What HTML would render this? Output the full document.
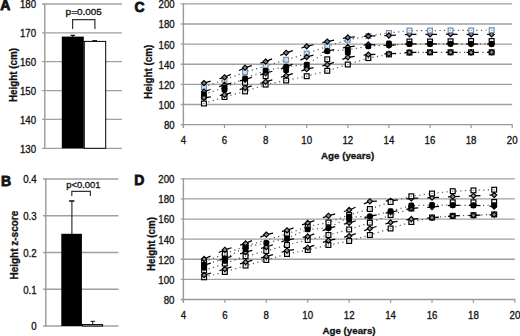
<!DOCTYPE html>
<html><head><meta charset="utf-8"><style>
html,body{margin:0;padding:0;background:#fff;}
body{width:520px;height:336px;overflow:hidden;}
svg{display:block;}
text{font-family:"Liberation Sans", sans-serif;fill:#111;}
</style></head><body>
<svg width="520" height="336" viewBox="0 0 520 336">
<rect width="520" height="336" fill="#fff"/>
<line x1="42" y1="148.30" x2="122" y2="148.30" stroke="#a0a0a0" stroke-width="1.3"/>
<text x="36.1" y="152.70" font-size="10.2" text-anchor="end" textLength="16.16" lengthAdjust="spacingAndGlyphs" stroke="#111" stroke-width="0.3">130</text>
<line x1="42" y1="119.44" x2="122" y2="119.44" stroke="#a0a0a0" stroke-width="1.3"/>
<text x="36.1" y="123.84" font-size="10.2" text-anchor="end" textLength="16.16" lengthAdjust="spacingAndGlyphs" stroke="#111" stroke-width="0.3">140</text>
<line x1="42" y1="90.58" x2="122" y2="90.58" stroke="#a0a0a0" stroke-width="1.3"/>
<text x="36.1" y="94.98" font-size="10.2" text-anchor="end" textLength="16.16" lengthAdjust="spacingAndGlyphs" stroke="#111" stroke-width="0.3">150</text>
<line x1="42" y1="61.72" x2="122" y2="61.72" stroke="#a0a0a0" stroke-width="1.3"/>
<text x="36.1" y="66.12" font-size="10.2" text-anchor="end" textLength="16.16" lengthAdjust="spacingAndGlyphs" stroke="#111" stroke-width="0.3">160</text>
<line x1="42" y1="32.86" x2="122" y2="32.86" stroke="#a0a0a0" stroke-width="1.3"/>
<text x="36.1" y="37.26" font-size="10.2" text-anchor="end" textLength="16.16" lengthAdjust="spacingAndGlyphs" stroke="#111" stroke-width="0.3">170</text>
<line x1="42" y1="4.00" x2="122" y2="4.00" stroke="#a0a0a0" stroke-width="1.3"/>
<text x="36.1" y="8.40" font-size="10.2" text-anchor="end" textLength="16.16" lengthAdjust="spacingAndGlyphs" stroke="#111" stroke-width="0.3">180</text>
<line x1="44.8" y1="3.40" x2="44.8" y2="148.90" stroke="#999999" stroke-width="1.4"/>
<rect x="61.8" y="36.6" width="22" height="111.70" fill="#000"/>
<rect x="84.3" y="41.4" width="21.4" height="106.90" fill="#fff" stroke="#000" stroke-width="1"/>
<path d="M70.6,35.4 H74.9 M72.75,35.4 V37" stroke="#111" stroke-width="1.2" fill="none"/>
<path d="M92.3,40.6 H97 M94.65,40.6 V41.5" stroke="#111" stroke-width="1" fill="none"/>
<path d="M72.6,28.9 V19.7 H94.9 V28.9" stroke="#333" stroke-width="1.2" fill="none"/>
<text x="65.6" y="14.9" font-size="9.4" text-anchor="start" textLength="36.3" lengthAdjust="spacingAndGlyphs" stroke="#111" stroke-width="0.3">p=0.005</text>
<text x="0.3" y="9.8" font-size="14" font-weight="bold" text-anchor="start" stroke="#111" stroke-width="0.8">A</text>
<text transform="translate(16.8,102.1) rotate(-90)" x="0" y="0" font-size="10.2" font-weight="bold" textLength="54.2" lengthAdjust="spacingAndGlyphs" stroke="#111" stroke-width="0.3">Height (cm)</text>
<line x1="43" y1="326.00" x2="118.5" y2="326.00" stroke="#a0a0a0" stroke-width="1.3"/>
<text x="36.6" y="330.40" font-size="10.2" text-anchor="end" textLength="5.39" lengthAdjust="spacingAndGlyphs" stroke="#111" stroke-width="0.3">0</text>
<line x1="43" y1="289.25" x2="118.5" y2="289.25" stroke="#a0a0a0" stroke-width="1.3"/>
<text x="36.6" y="293.65" font-size="10.2" text-anchor="end" textLength="13.47" lengthAdjust="spacingAndGlyphs" stroke="#111" stroke-width="0.3">0.1</text>
<line x1="43" y1="252.50" x2="118.5" y2="252.50" stroke="#a0a0a0" stroke-width="1.3"/>
<text x="36.6" y="256.90" font-size="10.2" text-anchor="end" textLength="13.47" lengthAdjust="spacingAndGlyphs" stroke="#111" stroke-width="0.3">0.2</text>
<line x1="43" y1="215.75" x2="118.5" y2="215.75" stroke="#a0a0a0" stroke-width="1.3"/>
<text x="36.6" y="220.15" font-size="10.2" text-anchor="end" textLength="13.47" lengthAdjust="spacingAndGlyphs" stroke="#111" stroke-width="0.3">0.3</text>
<line x1="43" y1="179.00" x2="118.5" y2="179.00" stroke="#a0a0a0" stroke-width="1.3"/>
<text x="36.6" y="183.40" font-size="10.2" text-anchor="end" textLength="13.47" lengthAdjust="spacingAndGlyphs" stroke="#111" stroke-width="0.3">0.4</text>
<line x1="45.8" y1="178.40" x2="45.8" y2="326.60" stroke="#999999" stroke-width="1.4"/>
<rect x="61.3" y="233.8" width="20.6" height="92.20" fill="#000"/>
<rect x="82.4" y="324.6" width="20.2" height="1.4" fill="#fff" stroke="#000" stroke-width="1"/>
<path d="M69.1,201 H74.4" stroke="#111" stroke-width="1.6" fill="none"/><path d="M71.9,201 V234" stroke="#222" stroke-width="1.1" fill="none"/>
<path d="M90.6,321.3 H95.1 M92.7,321.3 V324.6" stroke="#111" stroke-width="1" fill="none"/>
<path d="M71.8,195.9 V191.3 H90.4 V195.9" stroke="#333" stroke-width="1.2" fill="none"/>
<text x="66.2" y="188.2" font-size="9.8" text-anchor="start" textLength="34.4" lengthAdjust="spacingAndGlyphs" stroke="#111" stroke-width="0.3">p&lt;0.001</text>
<text x="0.9" y="185.5" font-size="14" font-weight="bold" text-anchor="start" stroke="#111" stroke-width="0.8">B</text>
<text transform="translate(17.9,279.5) rotate(-90)" x="0" y="0" font-size="10.2" font-weight="bold" textLength="68.7" lengthAdjust="spacingAndGlyphs" stroke="#111" stroke-width="0.3">Height z-score</text>
<line x1="180.7" y1="104.48" x2="512.2" y2="104.48" stroke="#a0a0a0" stroke-width="1.3"/>
<line x1="180.7" y1="84.37" x2="512.2" y2="84.37" stroke="#a0a0a0" stroke-width="1.3"/>
<line x1="180.7" y1="64.25" x2="512.2" y2="64.25" stroke="#a0a0a0" stroke-width="1.3"/>
<line x1="180.7" y1="44.13" x2="512.2" y2="44.13" stroke="#a0a0a0" stroke-width="1.3"/>
<line x1="180.7" y1="24.02" x2="512.2" y2="24.02" stroke="#a0a0a0" stroke-width="1.3"/>
<line x1="180.7" y1="3.90" x2="512.2" y2="3.90" stroke="#a0a0a0" stroke-width="1.3"/>
<text x="174.7" y="129.00" font-size="10.2" text-anchor="end" textLength="10.78" lengthAdjust="spacingAndGlyphs" stroke="#111" stroke-width="0.3">80</text>
<text x="174.7" y="108.88" font-size="10.2" text-anchor="end" textLength="16.16" lengthAdjust="spacingAndGlyphs" stroke="#111" stroke-width="0.3">100</text>
<text x="174.7" y="88.77" font-size="10.2" text-anchor="end" textLength="16.16" lengthAdjust="spacingAndGlyphs" stroke="#111" stroke-width="0.3">120</text>
<text x="174.7" y="68.65" font-size="10.2" text-anchor="end" textLength="16.16" lengthAdjust="spacingAndGlyphs" stroke="#111" stroke-width="0.3">140</text>
<text x="174.7" y="48.53" font-size="10.2" text-anchor="end" textLength="16.16" lengthAdjust="spacingAndGlyphs" stroke="#111" stroke-width="0.3">160</text>
<text x="174.7" y="28.42" font-size="10.2" text-anchor="end" textLength="16.16" lengthAdjust="spacingAndGlyphs" stroke="#111" stroke-width="0.3">180</text>
<text x="174.7" y="8.30" font-size="10.2" text-anchor="end" textLength="16.16" lengthAdjust="spacingAndGlyphs" stroke="#111" stroke-width="0.3">200</text>
<line x1="180.7" y1="124.60" x2="512.7" y2="124.60" stroke="#999999" stroke-width="1.4"/>
<line x1="183.4" y1="3.30" x2="183.4" y2="128.00" stroke="#999999" stroke-width="1.4"/>
<line x1="183.40" y1="124.60" x2="183.40" y2="128.00" stroke="#999999" stroke-width="1.2"/>
<text x="183.40" y="144.1" font-size="10.2" text-anchor="middle" textLength="5.39" lengthAdjust="spacingAndGlyphs" stroke="#111" stroke-width="0.3">4</text>
<line x1="224.50" y1="124.60" x2="224.50" y2="128.00" stroke="#999999" stroke-width="1.2"/>
<text x="224.50" y="144.1" font-size="10.2" text-anchor="middle" textLength="5.39" lengthAdjust="spacingAndGlyphs" stroke="#111" stroke-width="0.3">6</text>
<line x1="265.60" y1="124.60" x2="265.60" y2="128.00" stroke="#999999" stroke-width="1.2"/>
<text x="265.60" y="144.1" font-size="10.2" text-anchor="middle" textLength="5.39" lengthAdjust="spacingAndGlyphs" stroke="#111" stroke-width="0.3">8</text>
<line x1="306.70" y1="124.60" x2="306.70" y2="128.00" stroke="#999999" stroke-width="1.2"/>
<text x="306.70" y="144.1" font-size="10.2" text-anchor="middle" textLength="10.78" lengthAdjust="spacingAndGlyphs" stroke="#111" stroke-width="0.3">10</text>
<line x1="347.80" y1="124.60" x2="347.80" y2="128.00" stroke="#999999" stroke-width="1.2"/>
<text x="347.80" y="144.1" font-size="10.2" text-anchor="middle" textLength="10.78" lengthAdjust="spacingAndGlyphs" stroke="#111" stroke-width="0.3">12</text>
<line x1="388.90" y1="124.60" x2="388.90" y2="128.00" stroke="#999999" stroke-width="1.2"/>
<text x="388.90" y="144.1" font-size="10.2" text-anchor="middle" textLength="10.78" lengthAdjust="spacingAndGlyphs" stroke="#111" stroke-width="0.3">14</text>
<line x1="430.00" y1="124.60" x2="430.00" y2="128.00" stroke="#999999" stroke-width="1.2"/>
<text x="430.00" y="144.1" font-size="10.2" text-anchor="middle" textLength="10.78" lengthAdjust="spacingAndGlyphs" stroke="#111" stroke-width="0.3">16</text>
<line x1="471.10" y1="124.60" x2="471.10" y2="128.00" stroke="#999999" stroke-width="1.2"/>
<text x="471.10" y="144.1" font-size="10.2" text-anchor="middle" textLength="10.78" lengthAdjust="spacingAndGlyphs" stroke="#111" stroke-width="0.3">18</text>
<line x1="512.20" y1="124.60" x2="512.20" y2="128.00" stroke="#999999" stroke-width="1.2"/>
<text x="512.20" y="144.1" font-size="10.2" text-anchor="middle" textLength="10.78" lengthAdjust="spacingAndGlyphs" stroke="#111" stroke-width="0.3">20</text>
<text x="321" y="159.0" font-size="9.6" font-weight="bold" text-anchor="start" textLength="53.2" lengthAdjust="spacingAndGlyphs" stroke="#111" stroke-width="0.3">Age (years)</text>
<text x="134.6" y="11.7" font-size="14" font-weight="bold" text-anchor="start" stroke="#111" stroke-width="0.8">C</text>
<text transform="translate(152.1,98.9) rotate(-90)" x="0" y="0" font-size="10.2" font-weight="bold" textLength="54.1" lengthAdjust="spacingAndGlyphs" stroke="#111" stroke-width="0.3">Height (cm)</text>
<path d="M203.95,87.00 L224.50,79.80 L245.05,72.20 L265.60,66.10 L286.15,59.80 L306.70,53.60 L327.25,46.30 L347.80,39.80 L368.35,36.00 L388.90,33.00 L409.45,30.60 L430.00,30.60 L450.55,30.40 L471.10,30.40 L491.65,30.20" stroke="#555" stroke-width="1.2" stroke-dasharray="1.2 3.4" fill="none"/>
<path d="M203.95,94.30 L224.50,87.60 L245.05,78.40 L265.60,70.60 L286.15,66.60 L306.70,64.60 L327.25,51.20 L347.80,49.80 L368.35,46.30 L388.90,45.00 L409.45,44.00 L430.00,44.00 L450.55,43.80 L471.10,43.80 L491.65,44.00" stroke="#555" stroke-width="1.2" stroke-dasharray="1.2 3.4" fill="none"/>
<path d="M203.95,103.50 L224.50,97.00 L245.05,91.40 L265.60,84.60 L286.15,80.50 L306.70,76.20 L327.25,70.80 L347.80,64.50 L368.35,58.10 L388.90,54.40 L409.45,52.60 L430.00,52.30 L450.55,52.30 L471.10,52.30 L491.65,52.30" stroke="#555" stroke-width="1.2" stroke-dasharray="1.2 3.4" fill="none"/>
<line x1="388.90" y1="35.50" x2="409.45" y2="34.30" stroke="#000" stroke-width="1.25" stroke-dasharray="7 9"/>
<line x1="409.45" y1="34.30" x2="430.00" y2="34.40" stroke="#000" stroke-width="1.25" stroke-dasharray="7 9"/>
<line x1="430.00" y1="34.40" x2="450.55" y2="34.20" stroke="#000" stroke-width="1.25" stroke-dasharray="7 9"/>
<line x1="450.55" y1="34.20" x2="471.10" y2="34.40" stroke="#000" stroke-width="1.25" stroke-dasharray="7 9"/>
<line x1="471.10" y1="34.40" x2="491.65" y2="34.40" stroke="#000" stroke-width="1.25" stroke-dasharray="7 9"/>
<path d="M409.45,31.70 L412.05,34.30 L409.45,36.90 L406.85,34.30 Z" fill="#6f7d96" stroke="#000" stroke-width="1.1"/>
<path d="M430.00,31.80 L432.60,34.40 L430.00,37.00 L427.40,34.40 Z" fill="#6f7d96" stroke="#000" stroke-width="1.1"/>
<path d="M450.55,31.60 L453.15,34.20 L450.55,36.80 L447.95,34.20 Z" fill="#6f7d96" stroke="#000" stroke-width="1.1"/>
<path d="M471.10,31.80 L473.70,34.40 L471.10,37.00 L468.50,34.40 Z" fill="#6f7d96" stroke="#000" stroke-width="1.1"/>
<path d="M491.65,31.80 L494.25,34.40 L491.65,37.00 L489.05,34.40 Z" fill="#6f7d96" stroke="#000" stroke-width="1.1"/>
<rect x="201.55" y="84.60" width="4.8" height="4.8" fill="#d6e2ef" stroke="#7390b0" stroke-width="1.2"/>
<rect x="222.10" y="77.40" width="4.8" height="4.8" fill="#d6e2ef" stroke="#7390b0" stroke-width="1.2"/>
<rect x="242.65" y="69.80" width="4.8" height="4.8" fill="#d6e2ef" stroke="#7390b0" stroke-width="1.2"/>
<rect x="263.20" y="63.70" width="4.8" height="4.8" fill="#d6e2ef" stroke="#7390b0" stroke-width="1.2"/>
<rect x="283.75" y="57.40" width="4.8" height="4.8" fill="#d6e2ef" stroke="#7390b0" stroke-width="1.2"/>
<rect x="304.30" y="51.20" width="4.8" height="4.8" fill="#d6e2ef" stroke="#7390b0" stroke-width="1.2"/>
<rect x="324.85" y="43.90" width="4.8" height="4.8" fill="#d6e2ef" stroke="#7390b0" stroke-width="1.2"/>
<rect x="345.40" y="37.40" width="4.8" height="4.8" fill="#d6e2ef" stroke="#7390b0" stroke-width="1.2"/>
<rect x="365.95" y="33.60" width="4.8" height="4.8" fill="#d6e2ef" stroke="#7390b0" stroke-width="1.2"/>
<rect x="386.50" y="30.60" width="4.8" height="4.8" fill="#f4f7fb" stroke="#7390b0" stroke-width="1.2"/>
<rect x="388.30" y="32.40" width="1.2" height="1.2" fill="#8aa"/>
<rect x="407.05" y="28.20" width="4.8" height="4.8" fill="#f4f7fb" stroke="#7390b0" stroke-width="1.2"/>
<rect x="408.85" y="30.00" width="1.2" height="1.2" fill="#8aa"/>
<rect x="427.60" y="28.20" width="4.8" height="4.8" fill="#f4f7fb" stroke="#7390b0" stroke-width="1.2"/>
<rect x="429.40" y="30.00" width="1.2" height="1.2" fill="#8aa"/>
<rect x="448.15" y="28.00" width="4.8" height="4.8" fill="#f4f7fb" stroke="#7390b0" stroke-width="1.2"/>
<rect x="449.95" y="29.80" width="1.2" height="1.2" fill="#8aa"/>
<rect x="468.70" y="28.00" width="4.8" height="4.8" fill="#f4f7fb" stroke="#7390b0" stroke-width="1.2"/>
<rect x="470.50" y="29.80" width="1.2" height="1.2" fill="#8aa"/>
<rect x="489.25" y="27.80" width="4.8" height="4.8" fill="#f4f7fb" stroke="#7390b0" stroke-width="1.2"/>
<rect x="491.05" y="29.60" width="1.2" height="1.2" fill="#8aa"/>
<rect x="407.05" y="39.10" width="4.8" height="4.8" fill="#fff" stroke="#000" stroke-width="1.2"/>
<rect x="427.60" y="39.10" width="4.8" height="4.8" fill="#fff" stroke="#000" stroke-width="1.2"/>
<rect x="448.15" y="38.90" width="4.8" height="4.8" fill="#fff" stroke="#000" stroke-width="1.2"/>
<rect x="468.70" y="38.60" width="4.8" height="4.8" fill="#fff" stroke="#000" stroke-width="1.2"/>
<rect x="489.25" y="38.60" width="4.8" height="4.8" fill="#fff" stroke="#000" stroke-width="1.2"/>
<rect x="242.65" y="80.40" width="4.8" height="4.8" fill="#fff" stroke="#000" stroke-width="1.2"/>
<rect x="244.45" y="82.20" width="1.2" height="1.2" fill="#777"/>
<rect x="263.20" y="73.80" width="4.8" height="4.8" fill="#fff" stroke="#000" stroke-width="1.2"/>
<rect x="265.00" y="75.60" width="1.2" height="1.2" fill="#777"/>
<rect x="324.85" y="56.90" width="4.8" height="4.8" fill="#fff" stroke="#000" stroke-width="1.2"/>
<rect x="326.65" y="58.70" width="1.2" height="1.2" fill="#777"/>
<rect x="201.55" y="101.10" width="4.8" height="4.8" fill="#fff" stroke="#000" stroke-width="1.2"/>
<rect x="203.35" y="102.90" width="1.2" height="1.2" fill="#777"/>
<rect x="222.10" y="94.60" width="4.8" height="4.8" fill="#fff" stroke="#000" stroke-width="1.2"/>
<rect x="223.90" y="96.40" width="1.2" height="1.2" fill="#777"/>
<rect x="242.65" y="89.00" width="4.8" height="4.8" fill="#fff" stroke="#000" stroke-width="1.2"/>
<rect x="244.45" y="90.80" width="1.2" height="1.2" fill="#777"/>
<rect x="263.20" y="82.20" width="4.8" height="4.8" fill="#fff" stroke="#000" stroke-width="1.2"/>
<rect x="265.00" y="84.00" width="1.2" height="1.2" fill="#777"/>
<rect x="283.75" y="78.10" width="4.8" height="4.8" fill="#fff" stroke="#000" stroke-width="1.2"/>
<rect x="285.55" y="79.90" width="1.2" height="1.2" fill="#777"/>
<rect x="304.30" y="73.80" width="4.8" height="4.8" fill="#fff" stroke="#000" stroke-width="1.2"/>
<rect x="306.10" y="75.60" width="1.2" height="1.2" fill="#777"/>
<rect x="324.85" y="68.40" width="4.8" height="4.8" fill="#fff" stroke="#000" stroke-width="1.2"/>
<rect x="326.65" y="70.20" width="1.2" height="1.2" fill="#777"/>
<rect x="345.40" y="62.10" width="4.8" height="4.8" fill="#fff" stroke="#000" stroke-width="1.2"/>
<rect x="347.20" y="63.90" width="1.2" height="1.2" fill="#777"/>
<rect x="365.95" y="55.70" width="4.8" height="4.8" fill="#fff" stroke="#000" stroke-width="1.2"/>
<rect x="367.75" y="57.50" width="1.2" height="1.2" fill="#777"/>
<rect x="386.50" y="52.00" width="4.8" height="4.8" fill="#fff" stroke="#000" stroke-width="1.2"/>
<rect x="388.30" y="53.80" width="1.2" height="1.2" fill="#777"/>
<rect x="407.05" y="50.20" width="4.8" height="4.8" fill="#fff" stroke="#000" stroke-width="1.2"/>
<rect x="408.85" y="52.00" width="1.2" height="1.2" fill="#777"/>
<rect x="427.60" y="49.90" width="4.8" height="4.8" fill="#fff" stroke="#000" stroke-width="1.2"/>
<rect x="429.40" y="51.70" width="1.2" height="1.2" fill="#777"/>
<rect x="448.15" y="49.90" width="4.8" height="4.8" fill="#fff" stroke="#000" stroke-width="1.2"/>
<rect x="449.95" y="51.70" width="1.2" height="1.2" fill="#777"/>
<rect x="468.70" y="49.90" width="4.8" height="4.8" fill="#fff" stroke="#000" stroke-width="1.2"/>
<rect x="470.50" y="51.70" width="1.2" height="1.2" fill="#777"/>
<rect x="489.25" y="49.90" width="4.8" height="4.8" fill="#fff" stroke="#000" stroke-width="1.2"/>
<rect x="491.05" y="51.70" width="1.2" height="1.2" fill="#777"/>
<line x1="203.95" y1="91.70" x2="224.50" y2="84.90" stroke="#000" stroke-width="1.25" stroke-dasharray="7 9"/>
<line x1="224.50" y1="84.90" x2="245.05" y2="79.50" stroke="#000" stroke-width="1.25" stroke-dasharray="7 9"/>
<line x1="245.05" y1="79.50" x2="265.60" y2="73.20" stroke="#000" stroke-width="1.25" stroke-dasharray="7 9"/>
<line x1="265.60" y1="73.20" x2="286.15" y2="67.30" stroke="#000" stroke-width="1.25" stroke-dasharray="7 9"/>
<line x1="286.15" y1="67.30" x2="306.70" y2="57.00" stroke="#000" stroke-width="1.25" stroke-dasharray="7 9"/>
<line x1="306.70" y1="57.00" x2="327.25" y2="51.00" stroke="#000" stroke-width="1.25" stroke-dasharray="7 9"/>
<line x1="327.25" y1="51.00" x2="347.80" y2="47.00" stroke="#000" stroke-width="1.25" stroke-dasharray="7 9"/>
<line x1="347.80" y1="47.00" x2="368.35" y2="44.50" stroke="#000" stroke-width="1.25" stroke-dasharray="7 9"/>
<line x1="368.35" y1="44.50" x2="388.90" y2="45.50" stroke="#000" stroke-width="1.25" stroke-dasharray="7 9"/>
<line x1="388.90" y1="45.50" x2="409.45" y2="43.80" stroke="#000" stroke-width="1.25" stroke-dasharray="7 9"/>
<line x1="409.45" y1="43.80" x2="430.00" y2="43.80" stroke="#000" stroke-width="1.25" stroke-dasharray="7 9"/>
<line x1="430.00" y1="43.80" x2="450.55" y2="43.80" stroke="#000" stroke-width="1.25" stroke-dasharray="7 9"/>
<line x1="450.55" y1="43.80" x2="471.10" y2="44.00" stroke="#000" stroke-width="1.25" stroke-dasharray="7 9"/>
<line x1="471.10" y1="44.00" x2="491.65" y2="44.00" stroke="#000" stroke-width="1.25" stroke-dasharray="7 9"/>
<path d="M203.95,89.10 L206.55,91.70 L203.95,94.30 L201.35,91.70 Z" fill="#8c8c8c" stroke="#000" stroke-width="1.1"/>
<path d="M224.50,82.30 L227.10,84.90 L224.50,87.50 L221.90,84.90 Z" fill="#8c8c8c" stroke="#000" stroke-width="1.1"/>
<path d="M245.05,76.90 L247.65,79.50 L245.05,82.10 L242.45,79.50 Z" fill="#8c8c8c" stroke="#000" stroke-width="1.1"/>
<path d="M265.60,70.60 L268.20,73.20 L265.60,75.80 L263.00,73.20 Z" fill="#8c8c8c" stroke="#000" stroke-width="1.1"/>
<path d="M286.15,64.70 L288.75,67.30 L286.15,69.90 L283.55,67.30 Z" fill="#8c8c8c" stroke="#000" stroke-width="1.1"/>
<path d="M306.70,54.40 L309.30,57.00 L306.70,59.60 L304.10,57.00 Z" fill="#8c8c8c" stroke="#000" stroke-width="1.1"/>
<path d="M327.25,48.40 L329.85,51.00 L327.25,53.60 L324.65,51.00 Z" fill="#8c8c8c" stroke="#000" stroke-width="1.1"/>
<path d="M347.80,44.40 L350.40,47.00 L347.80,49.60 L345.20,47.00 Z" fill="#8c8c8c" stroke="#000" stroke-width="1.1"/>
<path d="M368.35,41.90 L370.95,44.50 L368.35,47.10 L365.75,44.50 Z" fill="#8c8c8c" stroke="#000" stroke-width="1.1"/>
<path d="M388.90,42.90 L391.50,45.50 L388.90,48.10 L386.30,45.50 Z" fill="#8c8c8c" stroke="#000" stroke-width="1.1"/>
<path d="M409.45,41.20 L412.05,43.80 L409.45,46.40 L406.85,43.80 Z" fill="#8c8c8c" stroke="#000" stroke-width="1.1"/>
<path d="M430.00,41.20 L432.60,43.80 L430.00,46.40 L427.40,43.80 Z" fill="#8c8c8c" stroke="#000" stroke-width="1.1"/>
<path d="M450.55,41.20 L453.15,43.80 L450.55,46.40 L447.95,43.80 Z" fill="#8c8c8c" stroke="#000" stroke-width="1.1"/>
<path d="M471.10,41.40 L473.70,44.00 L471.10,46.60 L468.50,44.00 Z" fill="#8c8c8c" stroke="#000" stroke-width="1.1"/>
<path d="M491.65,41.40 L494.25,44.00 L491.65,46.60 L489.05,44.00 Z" fill="#8c8c8c" stroke="#000" stroke-width="1.1"/>
<rect x="201.05" y="94.30" width="5.80" height="5.80" rx="1.6" fill="#000"/>
<rect x="221.60" y="86.90" width="5.80" height="5.80" rx="1.6" fill="#000"/>
<rect x="283.25" y="67.30" width="5.80" height="5.80" rx="1.6" fill="#000"/>
<rect x="303.80" y="64.70" width="5.80" height="5.80" rx="1.6" fill="#000"/>
<rect x="344.90" y="49.70" width="5.80" height="5.80" rx="1.6" fill="#000"/>
<rect x="386.00" y="40.50" width="5.80" height="5.80" rx="1.6" fill="#000"/>
<rect x="201.05" y="91.40" width="5.80" height="5.80" rx="1.6" fill="#000"/>
<rect x="221.60" y="84.70" width="5.80" height="5.80" rx="1.6" fill="#000"/>
<rect x="242.15" y="75.50" width="5.80" height="5.80" rx="1.6" fill="#000"/>
<rect x="262.70" y="67.70" width="5.80" height="5.80" rx="1.6" fill="#000"/>
<rect x="283.25" y="63.70" width="5.80" height="5.80" rx="1.6" fill="#000"/>
<rect x="303.80" y="61.70" width="5.80" height="5.80" rx="1.6" fill="#000"/>
<rect x="324.35" y="48.30" width="5.80" height="5.80" rx="1.6" fill="#000"/>
<rect x="344.90" y="46.90" width="5.80" height="5.80" rx="1.6" fill="#000"/>
<rect x="365.45" y="43.40" width="5.80" height="5.80" rx="1.6" fill="#000"/>
<rect x="386.00" y="42.10" width="5.80" height="5.80" rx="1.6" fill="#000"/>
<rect x="406.55" y="41.10" width="5.80" height="5.80" rx="1.6" fill="#000"/>
<rect x="427.10" y="41.10" width="5.80" height="5.80" rx="1.6" fill="#000"/>
<rect x="447.65" y="40.90" width="5.80" height="5.80" rx="1.6" fill="#000"/>
<rect x="468.20" y="40.90" width="5.80" height="5.80" rx="1.6" fill="#000"/>
<rect x="488.75" y="41.10" width="5.80" height="5.80" rx="1.6" fill="#000"/>
<line x1="203.95" y1="83.10" x2="224.50" y2="77.30" stroke="#000" stroke-width="1.25" stroke-dasharray="7 9"/>
<line x1="224.50" y1="77.30" x2="245.05" y2="67.70" stroke="#000" stroke-width="1.25" stroke-dasharray="7 9"/>
<line x1="245.05" y1="67.70" x2="265.60" y2="61.60" stroke="#000" stroke-width="1.25" stroke-dasharray="7 9"/>
<line x1="265.60" y1="61.60" x2="286.15" y2="52.80" stroke="#000" stroke-width="1.25" stroke-dasharray="7 9"/>
<line x1="286.15" y1="52.80" x2="306.70" y2="46.30" stroke="#000" stroke-width="1.25" stroke-dasharray="7 9"/>
<line x1="306.70" y1="46.30" x2="327.25" y2="41.60" stroke="#000" stroke-width="1.25" stroke-dasharray="7 9"/>
<line x1="327.25" y1="41.60" x2="347.80" y2="37.50" stroke="#000" stroke-width="1.25" stroke-dasharray="7 9"/>
<line x1="347.80" y1="37.50" x2="368.35" y2="36.00" stroke="#000" stroke-width="1.25" stroke-dasharray="7 9"/>
<line x1="368.35" y1="36.00" x2="388.90" y2="35.50" stroke="#000" stroke-width="1.25" stroke-dasharray="7 9"/>
<path d="M203.95,80.50 L206.55,83.10 L203.95,85.70 L201.35,83.10 Z" fill="#6f7d96" stroke="#000" stroke-width="1.1"/>
<path d="M224.50,74.70 L227.10,77.30 L224.50,79.90 L221.90,77.30 Z" fill="#6f7d96" stroke="#000" stroke-width="1.1"/>
<path d="M245.05,65.10 L247.65,67.70 L245.05,70.30 L242.45,67.70 Z" fill="#6f7d96" stroke="#000" stroke-width="1.1"/>
<path d="M265.60,59.00 L268.20,61.60 L265.60,64.20 L263.00,61.60 Z" fill="#6f7d96" stroke="#000" stroke-width="1.1"/>
<path d="M286.15,50.20 L288.75,52.80 L286.15,55.40 L283.55,52.80 Z" fill="#6f7d96" stroke="#000" stroke-width="1.1"/>
<path d="M306.70,43.70 L309.30,46.30 L306.70,48.90 L304.10,46.30 Z" fill="#6f7d96" stroke="#000" stroke-width="1.1"/>
<path d="M327.25,39.00 L329.85,41.60 L327.25,44.20 L324.65,41.60 Z" fill="#6f7d96" stroke="#000" stroke-width="1.1"/>
<path d="M347.80,34.90 L350.40,37.50 L347.80,40.10 L345.20,37.50 Z" fill="#6f7d96" stroke="#000" stroke-width="1.1"/>
<path d="M368.35,33.40 L370.95,36.00 L368.35,38.60 L365.75,36.00 Z" fill="#6f7d96" stroke="#000" stroke-width="1.1"/>
<path d="M388.90,32.90 L391.50,35.50 L388.90,38.10 L386.30,35.50 Z" fill="#6f7d96" stroke="#000" stroke-width="1.1"/>
<line x1="203.95" y1="97.80" x2="224.50" y2="94.80" stroke="#000" stroke-width="1.25" stroke-dasharray="7 9"/>
<line x1="224.50" y1="94.80" x2="245.05" y2="87.80" stroke="#000" stroke-width="1.25" stroke-dasharray="7 9"/>
<line x1="245.05" y1="87.80" x2="265.60" y2="81.80" stroke="#000" stroke-width="1.25" stroke-dasharray="7 9"/>
<line x1="265.60" y1="81.80" x2="286.15" y2="75.70" stroke="#000" stroke-width="1.25" stroke-dasharray="7 9"/>
<line x1="286.15" y1="75.70" x2="306.70" y2="69.20" stroke="#000" stroke-width="1.25" stroke-dasharray="7 9"/>
<line x1="306.70" y1="69.20" x2="327.25" y2="64.80" stroke="#000" stroke-width="1.25" stroke-dasharray="7 9"/>
<line x1="327.25" y1="64.80" x2="347.80" y2="57.30" stroke="#000" stroke-width="1.25" stroke-dasharray="7 9"/>
<line x1="347.80" y1="57.30" x2="368.35" y2="54.60" stroke="#000" stroke-width="1.25" stroke-dasharray="7 9"/>
<line x1="368.35" y1="54.60" x2="388.90" y2="53.80" stroke="#000" stroke-width="1.25" stroke-dasharray="7 9"/>
<line x1="388.90" y1="53.80" x2="409.45" y2="52.40" stroke="#000" stroke-width="1.25" stroke-dasharray="7 9"/>
<line x1="409.45" y1="52.40" x2="430.00" y2="52.30" stroke="#000" stroke-width="1.25" stroke-dasharray="7 9"/>
<line x1="430.00" y1="52.30" x2="450.55" y2="52.30" stroke="#000" stroke-width="1.25" stroke-dasharray="7 9"/>
<line x1="450.55" y1="52.30" x2="471.10" y2="52.50" stroke="#000" stroke-width="1.25" stroke-dasharray="7 9"/>
<line x1="471.10" y1="52.50" x2="491.65" y2="52.30" stroke="#000" stroke-width="1.25" stroke-dasharray="7 9"/>
<path d="M203.95,95.20 L206.55,97.80 L203.95,100.40 L201.35,97.80 Z" fill="#8c8c8c" stroke="#000" stroke-width="1.1"/>
<path d="M224.50,92.20 L227.10,94.80 L224.50,97.40 L221.90,94.80 Z" fill="#8c8c8c" stroke="#000" stroke-width="1.1"/>
<path d="M245.05,85.20 L247.65,87.80 L245.05,90.40 L242.45,87.80 Z" fill="#8c8c8c" stroke="#000" stroke-width="1.1"/>
<path d="M265.60,79.20 L268.20,81.80 L265.60,84.40 L263.00,81.80 Z" fill="#8c8c8c" stroke="#000" stroke-width="1.1"/>
<path d="M286.15,73.10 L288.75,75.70 L286.15,78.30 L283.55,75.70 Z" fill="#8c8c8c" stroke="#000" stroke-width="1.1"/>
<path d="M306.70,66.60 L309.30,69.20 L306.70,71.80 L304.10,69.20 Z" fill="#8c8c8c" stroke="#000" stroke-width="1.1"/>
<path d="M327.25,62.20 L329.85,64.80 L327.25,67.40 L324.65,64.80 Z" fill="#8c8c8c" stroke="#000" stroke-width="1.1"/>
<path d="M347.80,54.70 L350.40,57.30 L347.80,59.90 L345.20,57.30 Z" fill="#8c8c8c" stroke="#000" stroke-width="1.1"/>
<path d="M368.35,52.00 L370.95,54.60 L368.35,57.20 L365.75,54.60 Z" fill="#8c8c8c" stroke="#000" stroke-width="1.1"/>
<path d="M388.90,51.20 L391.50,53.80 L388.90,56.40 L386.30,53.80 Z" fill="#8c8c8c" stroke="#000" stroke-width="1.1"/>
<path d="M409.45,49.80 L412.05,52.40 L409.45,55.00 L406.85,52.40 Z" fill="#8c8c8c" stroke="#000" stroke-width="1.1"/>
<path d="M430.00,49.70 L432.60,52.30 L430.00,54.90 L427.40,52.30 Z" fill="#8c8c8c" stroke="#000" stroke-width="1.1"/>
<path d="M450.55,49.70 L453.15,52.30 L450.55,54.90 L447.95,52.30 Z" fill="#8c8c8c" stroke="#000" stroke-width="1.1"/>
<path d="M471.10,49.90 L473.70,52.50 L471.10,55.10 L468.50,52.50 Z" fill="#8c8c8c" stroke="#000" stroke-width="1.1"/>
<path d="M491.65,49.70 L494.25,52.30 L491.65,54.90 L489.05,52.30 Z" fill="#8c8c8c" stroke="#000" stroke-width="1.1"/>
<line x1="180.7" y1="279.35" x2="514.9" y2="279.35" stroke="#a0a0a0" stroke-width="1.3"/>
<line x1="180.7" y1="259.25" x2="514.9" y2="259.25" stroke="#a0a0a0" stroke-width="1.3"/>
<line x1="180.7" y1="239.15" x2="514.9" y2="239.15" stroke="#a0a0a0" stroke-width="1.3"/>
<line x1="180.7" y1="219.05" x2="514.9" y2="219.05" stroke="#a0a0a0" stroke-width="1.3"/>
<line x1="180.7" y1="198.95" x2="514.9" y2="198.95" stroke="#a0a0a0" stroke-width="1.3"/>
<line x1="180.7" y1="178.85" x2="514.9" y2="178.85" stroke="#a0a0a0" stroke-width="1.3"/>
<text x="174.5" y="303.85" font-size="10.2" text-anchor="end" textLength="10.78" lengthAdjust="spacingAndGlyphs" stroke="#111" stroke-width="0.3">80</text>
<text x="174.5" y="283.75" font-size="10.2" text-anchor="end" textLength="16.16" lengthAdjust="spacingAndGlyphs" stroke="#111" stroke-width="0.3">100</text>
<text x="174.5" y="263.65" font-size="10.2" text-anchor="end" textLength="16.16" lengthAdjust="spacingAndGlyphs" stroke="#111" stroke-width="0.3">120</text>
<text x="174.5" y="243.55" font-size="10.2" text-anchor="end" textLength="16.16" lengthAdjust="spacingAndGlyphs" stroke="#111" stroke-width="0.3">140</text>
<text x="174.5" y="223.45" font-size="10.2" text-anchor="end" textLength="16.16" lengthAdjust="spacingAndGlyphs" stroke="#111" stroke-width="0.3">160</text>
<text x="174.5" y="203.35" font-size="10.2" text-anchor="end" textLength="16.16" lengthAdjust="spacingAndGlyphs" stroke="#111" stroke-width="0.3">180</text>
<text x="174.5" y="183.25" font-size="10.2" text-anchor="end" textLength="16.16" lengthAdjust="spacingAndGlyphs" stroke="#111" stroke-width="0.3">200</text>
<line x1="180.7" y1="299.45" x2="515.4" y2="299.45" stroke="#999999" stroke-width="1.4"/>
<line x1="183.4" y1="178.25" x2="183.4" y2="302.85" stroke="#999999" stroke-width="1.4"/>
<line x1="183.40" y1="299.45" x2="183.40" y2="302.85" stroke="#999999" stroke-width="1.2"/>
<text x="183.40" y="319.0" font-size="10.2" text-anchor="middle" textLength="5.39" lengthAdjust="spacingAndGlyphs" stroke="#111" stroke-width="0.3">4</text>
<line x1="224.84" y1="299.45" x2="224.84" y2="302.85" stroke="#999999" stroke-width="1.2"/>
<text x="224.84" y="319.0" font-size="10.2" text-anchor="middle" textLength="5.39" lengthAdjust="spacingAndGlyphs" stroke="#111" stroke-width="0.3">6</text>
<line x1="266.27" y1="299.45" x2="266.27" y2="302.85" stroke="#999999" stroke-width="1.2"/>
<text x="266.27" y="319.0" font-size="10.2" text-anchor="middle" textLength="5.39" lengthAdjust="spacingAndGlyphs" stroke="#111" stroke-width="0.3">8</text>
<line x1="307.71" y1="299.45" x2="307.71" y2="302.85" stroke="#999999" stroke-width="1.2"/>
<text x="307.71" y="319.0" font-size="10.2" text-anchor="middle" textLength="10.78" lengthAdjust="spacingAndGlyphs" stroke="#111" stroke-width="0.3">10</text>
<line x1="349.15" y1="299.45" x2="349.15" y2="302.85" stroke="#999999" stroke-width="1.2"/>
<text x="349.15" y="319.0" font-size="10.2" text-anchor="middle" textLength="10.78" lengthAdjust="spacingAndGlyphs" stroke="#111" stroke-width="0.3">12</text>
<line x1="390.59" y1="299.45" x2="390.59" y2="302.85" stroke="#999999" stroke-width="1.2"/>
<text x="390.59" y="319.0" font-size="10.2" text-anchor="middle" textLength="10.78" lengthAdjust="spacingAndGlyphs" stroke="#111" stroke-width="0.3">14</text>
<line x1="432.02" y1="299.45" x2="432.02" y2="302.85" stroke="#999999" stroke-width="1.2"/>
<text x="432.02" y="319.0" font-size="10.2" text-anchor="middle" textLength="10.78" lengthAdjust="spacingAndGlyphs" stroke="#111" stroke-width="0.3">16</text>
<line x1="473.46" y1="299.45" x2="473.46" y2="302.85" stroke="#999999" stroke-width="1.2"/>
<text x="473.46" y="319.0" font-size="10.2" text-anchor="middle" textLength="10.78" lengthAdjust="spacingAndGlyphs" stroke="#111" stroke-width="0.3">18</text>
<line x1="514.90" y1="299.45" x2="514.90" y2="302.85" stroke="#999999" stroke-width="1.2"/>
<text x="514.90" y="319.0" font-size="10.2" text-anchor="middle" textLength="10.78" lengthAdjust="spacingAndGlyphs" stroke="#111" stroke-width="0.3">20</text>
<text x="322.4" y="333.5" font-size="9.6" font-weight="bold" text-anchor="start" textLength="53.2" lengthAdjust="spacingAndGlyphs" stroke="#111" stroke-width="0.3">Age (years)</text>
<text x="134.2" y="185.3" font-size="14" font-weight="bold" text-anchor="start" stroke="#111" stroke-width="0.8">D</text>
<text transform="translate(154.5,271.1) rotate(-90)" x="0" y="0" font-size="10.2" font-weight="bold" textLength="54.0" lengthAdjust="spacingAndGlyphs" stroke="#111" stroke-width="0.3">Height (cm)</text>
<path d="M204.12,261.60 L224.84,254.00 L245.56,246.00 L286.99,234.00 L307.71,226.50 L328.43,222.50 L349.15,215.00 L369.87,209.00 L390.59,202.00 L411.31,196.30 L432.02,193.50 L452.74,191.20 L473.46,190.40 L494.18,189.70" stroke="#555" stroke-width="1.2" stroke-dasharray="1.2 3.4" fill="none"/>
<path d="M204.12,265.00 L224.84,258.60 L245.56,246.80 L266.27,243.00 L286.99,238.30 L307.71,229.40 L328.43,228.00 L349.15,217.00 L369.87,216.50 L390.59,211.20 L411.31,205.50 L432.02,205.00 L452.74,205.20 L473.46,205.40 L494.18,205.20" stroke="#555" stroke-width="1.2" stroke-dasharray="1.2 3.4" fill="none"/>
<path d="M204.12,270.50 L224.84,263.60 L245.56,256.20 L266.27,251.00 L286.99,245.00 L307.71,240.00 L328.43,235.00 L349.15,229.50 L369.87,222.70 L390.59,215.00 L411.31,208.50" stroke="#555" stroke-width="1.2" stroke-dasharray="1.2 3.4" fill="none"/>
<path d="M204.12,277.30 L224.84,272.00 L245.56,265.60 L266.27,260.00 L286.99,254.00 L307.71,250.00 L328.43,245.00 L349.15,241.00 L369.87,235.00 L390.59,228.50 L411.31,222.00 L432.02,217.50 L452.74,215.90 L473.46,215.20 L494.18,214.40" stroke="#555" stroke-width="1.2" stroke-dasharray="1.2 3.4" fill="none"/>
<line x1="369.87" y1="201.30" x2="390.59" y2="200.80" stroke="#000" stroke-width="1.25" stroke-dasharray="7 9"/>
<line x1="390.59" y1="200.80" x2="411.31" y2="198.40" stroke="#000" stroke-width="1.25" stroke-dasharray="7 9"/>
<line x1="411.31" y1="198.40" x2="432.02" y2="197.70" stroke="#000" stroke-width="1.25" stroke-dasharray="7 9"/>
<line x1="432.02" y1="197.70" x2="452.74" y2="196.60" stroke="#000" stroke-width="1.25" stroke-dasharray="7 9"/>
<line x1="452.74" y1="196.60" x2="473.46" y2="195.80" stroke="#000" stroke-width="1.25" stroke-dasharray="7 9"/>
<line x1="473.46" y1="195.80" x2="494.18" y2="195.00" stroke="#000" stroke-width="1.25" stroke-dasharray="7 9"/>
<path d="M390.59,198.20 L393.19,200.80 L390.59,203.40 L387.99,200.80 Z" fill="#8c8c8c" stroke="#000" stroke-width="1.1"/>
<path d="M411.31,195.80 L413.91,198.40 L411.31,201.00 L408.71,198.40 Z" fill="#8c8c8c" stroke="#000" stroke-width="1.1"/>
<path d="M432.02,195.10 L434.62,197.70 L432.02,200.30 L429.42,197.70 Z" fill="#8c8c8c" stroke="#000" stroke-width="1.1"/>
<path d="M452.74,194.00 L455.34,196.60 L452.74,199.20 L450.14,196.60 Z" fill="#8c8c8c" stroke="#000" stroke-width="1.1"/>
<path d="M473.46,193.20 L476.06,195.80 L473.46,198.40 L470.86,195.80 Z" fill="#8c8c8c" stroke="#000" stroke-width="1.1"/>
<path d="M494.18,192.40 L496.78,195.00 L494.18,197.60 L491.58,195.00 Z" fill="#8c8c8c" stroke="#000" stroke-width="1.1"/>
<rect x="201.72" y="259.20" width="4.8" height="4.8" fill="#fff" stroke="#000" stroke-width="1.2"/>
<rect x="203.52" y="261.00" width="1.2" height="1.2" fill="#777"/>
<rect x="222.44" y="251.60" width="4.8" height="4.8" fill="#fff" stroke="#000" stroke-width="1.2"/>
<rect x="224.24" y="253.40" width="1.2" height="1.2" fill="#777"/>
<rect x="243.16" y="243.60" width="4.8" height="4.8" fill="#fff" stroke="#000" stroke-width="1.2"/>
<rect x="244.96" y="245.40" width="1.2" height="1.2" fill="#777"/>
<rect x="284.59" y="231.60" width="4.8" height="4.8" fill="#fff" stroke="#000" stroke-width="1.2"/>
<rect x="286.39" y="233.40" width="1.2" height="1.2" fill="#777"/>
<rect x="305.31" y="224.10" width="4.8" height="4.8" fill="#fff" stroke="#000" stroke-width="1.2"/>
<rect x="307.11" y="225.90" width="1.2" height="1.2" fill="#777"/>
<rect x="326.03" y="220.10" width="4.8" height="4.8" fill="#fff" stroke="#000" stroke-width="1.2"/>
<rect x="327.83" y="221.90" width="1.2" height="1.2" fill="#777"/>
<rect x="346.75" y="212.60" width="4.8" height="4.8" fill="#fff" stroke="#000" stroke-width="1.2"/>
<rect x="348.55" y="214.40" width="1.2" height="1.2" fill="#777"/>
<rect x="367.47" y="206.60" width="4.8" height="4.8" fill="#fff" stroke="#000" stroke-width="1.2"/>
<rect x="369.27" y="208.40" width="1.2" height="1.2" fill="#777"/>
<rect x="388.19" y="199.60" width="4.8" height="4.8" fill="#fff" stroke="#000" stroke-width="1.2"/>
<rect x="389.99" y="201.40" width="1.2" height="1.2" fill="#777"/>
<rect x="408.91" y="193.90" width="4.8" height="4.8" fill="#fff" stroke="#000" stroke-width="1.2"/>
<rect x="410.71" y="195.70" width="1.2" height="1.2" fill="#777"/>
<rect x="429.62" y="191.10" width="4.8" height="4.8" fill="#fff" stroke="#000" stroke-width="1.2"/>
<rect x="431.42" y="192.90" width="1.2" height="1.2" fill="#777"/>
<rect x="450.34" y="188.80" width="4.8" height="4.8" fill="#fff" stroke="#000" stroke-width="1.2"/>
<rect x="452.14" y="190.60" width="1.2" height="1.2" fill="#777"/>
<rect x="471.06" y="188.00" width="4.8" height="4.8" fill="#fff" stroke="#000" stroke-width="1.2"/>
<rect x="472.86" y="189.80" width="1.2" height="1.2" fill="#777"/>
<rect x="491.78" y="187.30" width="4.8" height="4.8" fill="#fff" stroke="#000" stroke-width="1.2"/>
<rect x="493.58" y="189.10" width="1.2" height="1.2" fill="#777"/>
<rect x="450.34" y="199.90" width="4.8" height="4.8" fill="#fff" stroke="#000" stroke-width="1.2"/>
<rect x="471.06" y="199.90" width="4.8" height="4.8" fill="#fff" stroke="#000" stroke-width="1.2"/>
<rect x="491.78" y="199.60" width="4.8" height="4.8" fill="#fff" stroke="#000" stroke-width="1.2"/>
<rect x="201.72" y="268.10" width="4.8" height="4.8" fill="#fff" stroke="#000" stroke-width="1.2"/>
<rect x="203.52" y="269.90" width="1.2" height="1.2" fill="#777"/>
<rect x="222.44" y="261.20" width="4.8" height="4.8" fill="#fff" stroke="#000" stroke-width="1.2"/>
<rect x="224.24" y="263.00" width="1.2" height="1.2" fill="#777"/>
<rect x="243.16" y="253.80" width="4.8" height="4.8" fill="#fff" stroke="#000" stroke-width="1.2"/>
<rect x="244.96" y="255.60" width="1.2" height="1.2" fill="#777"/>
<rect x="263.88" y="248.60" width="4.8" height="4.8" fill="#fff" stroke="#000" stroke-width="1.2"/>
<rect x="265.67" y="250.40" width="1.2" height="1.2" fill="#777"/>
<rect x="284.59" y="242.60" width="4.8" height="4.8" fill="#fff" stroke="#000" stroke-width="1.2"/>
<rect x="286.39" y="244.40" width="1.2" height="1.2" fill="#777"/>
<rect x="305.31" y="237.60" width="4.8" height="4.8" fill="#fff" stroke="#000" stroke-width="1.2"/>
<rect x="307.11" y="239.40" width="1.2" height="1.2" fill="#777"/>
<rect x="326.03" y="232.60" width="4.8" height="4.8" fill="#fff" stroke="#000" stroke-width="1.2"/>
<rect x="327.83" y="234.40" width="1.2" height="1.2" fill="#777"/>
<rect x="346.75" y="227.10" width="4.8" height="4.8" fill="#fff" stroke="#000" stroke-width="1.2"/>
<rect x="348.55" y="228.90" width="1.2" height="1.2" fill="#777"/>
<rect x="367.47" y="220.30" width="4.8" height="4.8" fill="#fff" stroke="#000" stroke-width="1.2"/>
<rect x="369.27" y="222.10" width="1.2" height="1.2" fill="#777"/>
<rect x="388.19" y="212.60" width="4.8" height="4.8" fill="#fff" stroke="#000" stroke-width="1.2"/>
<rect x="389.99" y="214.40" width="1.2" height="1.2" fill="#777"/>
<rect x="408.91" y="206.10" width="4.8" height="4.8" fill="#fff" stroke="#000" stroke-width="1.2"/>
<rect x="410.71" y="207.90" width="1.2" height="1.2" fill="#777"/>
<rect x="201.72" y="274.90" width="4.8" height="4.8" fill="#fff" stroke="#000" stroke-width="1.2"/>
<rect x="203.52" y="276.70" width="1.2" height="1.2" fill="#777"/>
<rect x="222.44" y="269.60" width="4.8" height="4.8" fill="#fff" stroke="#000" stroke-width="1.2"/>
<rect x="224.24" y="271.40" width="1.2" height="1.2" fill="#777"/>
<rect x="243.16" y="263.20" width="4.8" height="4.8" fill="#fff" stroke="#000" stroke-width="1.2"/>
<rect x="244.96" y="265.00" width="1.2" height="1.2" fill="#777"/>
<rect x="263.88" y="257.60" width="4.8" height="4.8" fill="#fff" stroke="#000" stroke-width="1.2"/>
<rect x="265.67" y="259.40" width="1.2" height="1.2" fill="#777"/>
<rect x="284.59" y="251.60" width="4.8" height="4.8" fill="#fff" stroke="#000" stroke-width="1.2"/>
<rect x="286.39" y="253.40" width="1.2" height="1.2" fill="#777"/>
<rect x="305.31" y="247.60" width="4.8" height="4.8" fill="#fff" stroke="#000" stroke-width="1.2"/>
<rect x="307.11" y="249.40" width="1.2" height="1.2" fill="#777"/>
<rect x="326.03" y="242.60" width="4.8" height="4.8" fill="#fff" stroke="#000" stroke-width="1.2"/>
<rect x="327.83" y="244.40" width="1.2" height="1.2" fill="#777"/>
<rect x="346.75" y="238.60" width="4.8" height="4.8" fill="#fff" stroke="#000" stroke-width="1.2"/>
<rect x="348.55" y="240.40" width="1.2" height="1.2" fill="#777"/>
<rect x="367.47" y="232.60" width="4.8" height="4.8" fill="#fff" stroke="#000" stroke-width="1.2"/>
<rect x="369.27" y="234.40" width="1.2" height="1.2" fill="#777"/>
<rect x="388.19" y="226.10" width="4.8" height="4.8" fill="#fff" stroke="#000" stroke-width="1.2"/>
<rect x="389.99" y="227.90" width="1.2" height="1.2" fill="#777"/>
<rect x="408.91" y="219.60" width="4.8" height="4.8" fill="#fff" stroke="#000" stroke-width="1.2"/>
<rect x="410.71" y="221.40" width="1.2" height="1.2" fill="#777"/>
<rect x="429.62" y="215.10" width="4.8" height="4.8" fill="#fff" stroke="#000" stroke-width="1.2"/>
<rect x="431.42" y="216.90" width="1.2" height="1.2" fill="#777"/>
<rect x="450.34" y="213.50" width="4.8" height="4.8" fill="#fff" stroke="#000" stroke-width="1.2"/>
<rect x="452.14" y="215.30" width="1.2" height="1.2" fill="#777"/>
<rect x="471.06" y="212.80" width="4.8" height="4.8" fill="#fff" stroke="#000" stroke-width="1.2"/>
<rect x="472.86" y="214.60" width="1.2" height="1.2" fill="#777"/>
<rect x="491.78" y="212.00" width="4.8" height="4.8" fill="#fff" stroke="#000" stroke-width="1.2"/>
<rect x="493.58" y="213.80" width="1.2" height="1.2" fill="#777"/>
<line x1="204.12" y1="265.20" x2="224.84" y2="258.50" stroke="#000" stroke-width="1.25" stroke-dasharray="7 9"/>
<line x1="224.84" y1="258.50" x2="245.56" y2="252.10" stroke="#000" stroke-width="1.25" stroke-dasharray="7 9"/>
<line x1="245.56" y1="252.10" x2="266.27" y2="247.00" stroke="#000" stroke-width="1.25" stroke-dasharray="7 9"/>
<line x1="266.27" y1="247.00" x2="286.99" y2="239.90" stroke="#000" stroke-width="1.25" stroke-dasharray="7 9"/>
<line x1="286.99" y1="239.90" x2="307.71" y2="236.50" stroke="#000" stroke-width="1.25" stroke-dasharray="7 9"/>
<line x1="307.71" y1="236.50" x2="328.43" y2="228.40" stroke="#000" stroke-width="1.25" stroke-dasharray="7 9"/>
<line x1="328.43" y1="228.40" x2="349.15" y2="222.80" stroke="#000" stroke-width="1.25" stroke-dasharray="7 9"/>
<line x1="349.15" y1="222.80" x2="369.87" y2="216.40" stroke="#000" stroke-width="1.25" stroke-dasharray="7 9"/>
<line x1="369.87" y1="216.40" x2="390.59" y2="212.00" stroke="#000" stroke-width="1.25" stroke-dasharray="7 9"/>
<line x1="390.59" y1="212.00" x2="411.31" y2="208.40" stroke="#000" stroke-width="1.25" stroke-dasharray="7 9"/>
<line x1="411.31" y1="208.40" x2="432.02" y2="207.00" stroke="#000" stroke-width="1.25" stroke-dasharray="7 9"/>
<line x1="432.02" y1="207.00" x2="452.74" y2="205.30" stroke="#000" stroke-width="1.25" stroke-dasharray="7 9"/>
<line x1="452.74" y1="205.30" x2="473.46" y2="205.30" stroke="#000" stroke-width="1.25" stroke-dasharray="7 9"/>
<line x1="473.46" y1="205.30" x2="494.18" y2="206.50" stroke="#000" stroke-width="1.25" stroke-dasharray="7 9"/>
<path d="M204.12,262.60 L206.72,265.20 L204.12,267.80 L201.52,265.20 Z" fill="#8c8c8c" stroke="#000" stroke-width="1.1"/>
<path d="M224.84,255.90 L227.44,258.50 L224.84,261.10 L222.24,258.50 Z" fill="#8c8c8c" stroke="#000" stroke-width="1.1"/>
<path d="M245.56,249.50 L248.16,252.10 L245.56,254.70 L242.96,252.10 Z" fill="#8c8c8c" stroke="#000" stroke-width="1.1"/>
<path d="M266.27,244.40 L268.88,247.00 L266.27,249.60 L263.67,247.00 Z" fill="#8c8c8c" stroke="#000" stroke-width="1.1"/>
<path d="M286.99,237.30 L289.59,239.90 L286.99,242.50 L284.39,239.90 Z" fill="#8c8c8c" stroke="#000" stroke-width="1.1"/>
<path d="M307.71,233.90 L310.31,236.50 L307.71,239.10 L305.11,236.50 Z" fill="#8c8c8c" stroke="#000" stroke-width="1.1"/>
<path d="M328.43,225.80 L331.03,228.40 L328.43,231.00 L325.83,228.40 Z" fill="#8c8c8c" stroke="#000" stroke-width="1.1"/>
<path d="M349.15,220.20 L351.75,222.80 L349.15,225.40 L346.55,222.80 Z" fill="#8c8c8c" stroke="#000" stroke-width="1.1"/>
<path d="M369.87,213.80 L372.47,216.40 L369.87,219.00 L367.27,216.40 Z" fill="#8c8c8c" stroke="#000" stroke-width="1.1"/>
<path d="M390.59,209.40 L393.19,212.00 L390.59,214.60 L387.99,212.00 Z" fill="#8c8c8c" stroke="#000" stroke-width="1.1"/>
<path d="M411.31,205.80 L413.91,208.40 L411.31,211.00 L408.71,208.40 Z" fill="#8c8c8c" stroke="#000" stroke-width="1.1"/>
<path d="M432.02,204.40 L434.62,207.00 L432.02,209.60 L429.42,207.00 Z" fill="#8c8c8c" stroke="#000" stroke-width="1.1"/>
<path d="M452.74,202.70 L455.34,205.30 L452.74,207.90 L450.14,205.30 Z" fill="#8c8c8c" stroke="#000" stroke-width="1.1"/>
<path d="M473.46,202.70 L476.06,205.30 L473.46,207.90 L470.86,205.30 Z" fill="#8c8c8c" stroke="#000" stroke-width="1.1"/>
<path d="M494.18,203.90 L496.78,206.50 L494.18,209.10 L491.58,206.50 Z" fill="#8c8c8c" stroke="#000" stroke-width="1.1"/>
<rect x="201.22" y="264.70" width="5.80" height="5.80" rx="1.6" fill="#000"/>
<rect x="221.94" y="257.90" width="5.80" height="5.80" rx="1.6" fill="#000"/>
<rect x="242.66" y="246.30" width="5.80" height="5.80" rx="1.6" fill="#000"/>
<rect x="346.25" y="216.60" width="5.80" height="5.80" rx="1.6" fill="#000"/>
<rect x="201.22" y="262.10" width="5.80" height="5.80" rx="1.6" fill="#000"/>
<rect x="221.94" y="255.70" width="5.80" height="5.80" rx="1.6" fill="#000"/>
<rect x="242.66" y="243.90" width="5.80" height="5.80" rx="1.6" fill="#000"/>
<rect x="263.38" y="240.10" width="5.80" height="5.80" rx="1.6" fill="#000"/>
<rect x="284.09" y="235.40" width="5.80" height="5.80" rx="1.6" fill="#000"/>
<rect x="304.81" y="226.50" width="5.80" height="5.80" rx="1.6" fill="#000"/>
<rect x="325.53" y="225.10" width="5.80" height="5.80" rx="1.6" fill="#000"/>
<rect x="346.25" y="214.10" width="5.80" height="5.80" rx="1.6" fill="#000"/>
<rect x="366.97" y="213.60" width="5.80" height="5.80" rx="1.6" fill="#000"/>
<rect x="387.69" y="208.30" width="5.80" height="5.80" rx="1.6" fill="#000"/>
<rect x="408.41" y="202.60" width="5.80" height="5.80" rx="1.6" fill="#000"/>
<rect x="429.12" y="202.10" width="5.80" height="5.80" rx="1.6" fill="#000"/>
<rect x="449.84" y="202.30" width="5.80" height="5.80" rx="1.6" fill="#000"/>
<rect x="470.56" y="202.50" width="5.80" height="5.80" rx="1.6" fill="#000"/>
<rect x="491.28" y="202.30" width="5.80" height="5.80" rx="1.6" fill="#000"/>
<line x1="204.12" y1="259.00" x2="224.84" y2="249.80" stroke="#000" stroke-width="1.25" stroke-dasharray="7 9"/>
<line x1="224.84" y1="249.80" x2="245.56" y2="243.40" stroke="#000" stroke-width="1.25" stroke-dasharray="7 9"/>
<line x1="245.56" y1="243.40" x2="266.27" y2="234.60" stroke="#000" stroke-width="1.25" stroke-dasharray="7 9"/>
<line x1="266.27" y1="234.60" x2="286.99" y2="230.30" stroke="#000" stroke-width="1.25" stroke-dasharray="7 9"/>
<line x1="286.99" y1="230.30" x2="307.71" y2="222.90" stroke="#000" stroke-width="1.25" stroke-dasharray="7 9"/>
<line x1="307.71" y1="222.90" x2="328.43" y2="215.80" stroke="#000" stroke-width="1.25" stroke-dasharray="7 9"/>
<line x1="328.43" y1="215.80" x2="349.15" y2="210.00" stroke="#000" stroke-width="1.25" stroke-dasharray="7 9"/>
<line x1="349.15" y1="210.00" x2="369.87" y2="201.30" stroke="#000" stroke-width="1.25" stroke-dasharray="7 9"/>
<path d="M204.12,256.40 L206.72,259.00 L204.12,261.60 L201.52,259.00 Z" fill="#8c8c8c" stroke="#000" stroke-width="1.1"/>
<path d="M224.84,247.20 L227.44,249.80 L224.84,252.40 L222.24,249.80 Z" fill="#8c8c8c" stroke="#000" stroke-width="1.1"/>
<path d="M245.56,240.80 L248.16,243.40 L245.56,246.00 L242.96,243.40 Z" fill="#8c8c8c" stroke="#000" stroke-width="1.1"/>
<path d="M266.27,232.00 L268.88,234.60 L266.27,237.20 L263.67,234.60 Z" fill="#8c8c8c" stroke="#000" stroke-width="1.1"/>
<path d="M286.99,227.70 L289.59,230.30 L286.99,232.90 L284.39,230.30 Z" fill="#8c8c8c" stroke="#000" stroke-width="1.1"/>
<path d="M307.71,220.30 L310.31,222.90 L307.71,225.50 L305.11,222.90 Z" fill="#8c8c8c" stroke="#000" stroke-width="1.1"/>
<path d="M328.43,213.20 L331.03,215.80 L328.43,218.40 L325.83,215.80 Z" fill="#8c8c8c" stroke="#000" stroke-width="1.1"/>
<path d="M349.15,207.40 L351.75,210.00 L349.15,212.60 L346.55,210.00 Z" fill="#8c8c8c" stroke="#000" stroke-width="1.1"/>
<path d="M369.87,198.70 L372.47,201.30 L369.87,203.90 L367.27,201.30 Z" fill="#8c8c8c" stroke="#000" stroke-width="1.1"/>
<line x1="204.12" y1="275.00" x2="224.84" y2="269.00" stroke="#000" stroke-width="1.25" stroke-dasharray="7 9"/>
<line x1="224.84" y1="269.00" x2="245.56" y2="262.10" stroke="#000" stroke-width="1.25" stroke-dasharray="7 9"/>
<line x1="245.56" y1="262.10" x2="266.27" y2="256.50" stroke="#000" stroke-width="1.25" stroke-dasharray="7 9"/>
<line x1="266.27" y1="256.50" x2="286.99" y2="250.60" stroke="#000" stroke-width="1.25" stroke-dasharray="7 9"/>
<line x1="286.99" y1="250.60" x2="307.71" y2="247.70" stroke="#000" stroke-width="1.25" stroke-dasharray="7 9"/>
<line x1="307.71" y1="247.70" x2="328.43" y2="240.50" stroke="#000" stroke-width="1.25" stroke-dasharray="7 9"/>
<line x1="328.43" y1="240.50" x2="349.15" y2="236.10" stroke="#000" stroke-width="1.25" stroke-dasharray="7 9"/>
<line x1="349.15" y1="236.10" x2="369.87" y2="228.50" stroke="#000" stroke-width="1.25" stroke-dasharray="7 9"/>
<line x1="369.87" y1="228.50" x2="390.59" y2="222.40" stroke="#000" stroke-width="1.25" stroke-dasharray="7 9"/>
<line x1="390.59" y1="222.40" x2="411.31" y2="219.10" stroke="#000" stroke-width="1.25" stroke-dasharray="7 9"/>
<line x1="411.31" y1="219.10" x2="432.02" y2="217.80" stroke="#000" stroke-width="1.25" stroke-dasharray="7 9"/>
<line x1="432.02" y1="217.80" x2="452.74" y2="215.90" stroke="#000" stroke-width="1.25" stroke-dasharray="7 9"/>
<line x1="452.74" y1="215.90" x2="473.46" y2="215.40" stroke="#000" stroke-width="1.25" stroke-dasharray="7 9"/>
<line x1="473.46" y1="215.40" x2="494.18" y2="214.60" stroke="#000" stroke-width="1.25" stroke-dasharray="7 9"/>
<path d="M204.12,272.40 L206.72,275.00 L204.12,277.60 L201.52,275.00 Z" fill="#8c8c8c" stroke="#000" stroke-width="1.1"/>
<path d="M224.84,266.40 L227.44,269.00 L224.84,271.60 L222.24,269.00 Z" fill="#8c8c8c" stroke="#000" stroke-width="1.1"/>
<path d="M245.56,259.50 L248.16,262.10 L245.56,264.70 L242.96,262.10 Z" fill="#8c8c8c" stroke="#000" stroke-width="1.1"/>
<path d="M266.27,253.90 L268.88,256.50 L266.27,259.10 L263.67,256.50 Z" fill="#8c8c8c" stroke="#000" stroke-width="1.1"/>
<path d="M286.99,248.00 L289.59,250.60 L286.99,253.20 L284.39,250.60 Z" fill="#8c8c8c" stroke="#000" stroke-width="1.1"/>
<path d="M307.71,245.10 L310.31,247.70 L307.71,250.30 L305.11,247.70 Z" fill="#8c8c8c" stroke="#000" stroke-width="1.1"/>
<path d="M328.43,237.90 L331.03,240.50 L328.43,243.10 L325.83,240.50 Z" fill="#8c8c8c" stroke="#000" stroke-width="1.1"/>
<path d="M349.15,233.50 L351.75,236.10 L349.15,238.70 L346.55,236.10 Z" fill="#8c8c8c" stroke="#000" stroke-width="1.1"/>
<path d="M369.87,225.90 L372.47,228.50 L369.87,231.10 L367.27,228.50 Z" fill="#8c8c8c" stroke="#000" stroke-width="1.1"/>
<path d="M390.59,219.80 L393.19,222.40 L390.59,225.00 L387.99,222.40 Z" fill="#8c8c8c" stroke="#000" stroke-width="1.1"/>
<path d="M411.31,216.50 L413.91,219.10 L411.31,221.70 L408.71,219.10 Z" fill="#8c8c8c" stroke="#000" stroke-width="1.1"/>
<path d="M432.02,215.20 L434.62,217.80 L432.02,220.40 L429.42,217.80 Z" fill="#8c8c8c" stroke="#000" stroke-width="1.1"/>
<path d="M452.74,213.30 L455.34,215.90 L452.74,218.50 L450.14,215.90 Z" fill="#8c8c8c" stroke="#000" stroke-width="1.1"/>
<path d="M473.46,212.80 L476.06,215.40 L473.46,218.00 L470.86,215.40 Z" fill="#8c8c8c" stroke="#000" stroke-width="1.1"/>
<path d="M494.18,212.00 L496.78,214.60 L494.18,217.20 L491.58,214.60 Z" fill="#8c8c8c" stroke="#000" stroke-width="1.1"/>
</svg>
</body></html>
